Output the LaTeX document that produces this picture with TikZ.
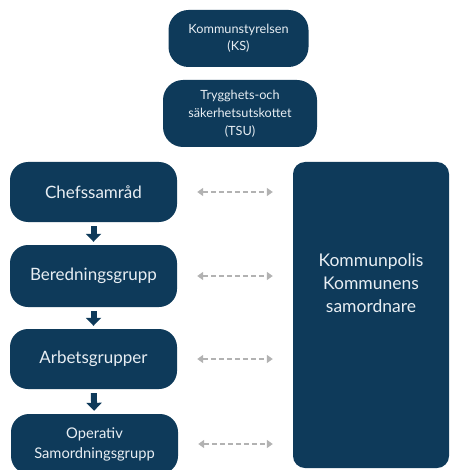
\documentclass[tikz,border=0pt]{standalone}
\usepackage{fontspec}
\setmainfont{Lato}
\usetikzlibrary{arrows.meta}
\definecolor{navy}{RGB}{14,58,90}
\definecolor{lightgray}{RGB}{178,178,178}
\definecolor{boxtext}{RGB}{232,238,243}

\begin{document}
\begin{tikzpicture}[x=1pt,y=-1pt,
    orgbox/.style={fill=navy, rounded corners=18pt, text=boxtext, align=center,
        inner sep=0pt, minimum width=167pt, minimum height=60pt},
    topbox/.style={orgbox, rounded corners=20pt},
    link/.style={draw=lightgray, line width=2pt, dash pattern=on 5pt off 3pt,
        {Triangle[width=8pt,length=6pt]}-{Triangle[width=8pt,length=6pt]},
        shorten <=20pt, shorten >=20pt},
    down/.style={draw=navy, line width=6pt, -{Triangle[width=15pt,length=8pt]},
        shorten <=4pt, shorten >=3pt}
    ]
    \useasboundingbox (0,0) rectangle (451,470);
    \def\xl{93.5}

    % top boxes
    \node[topbox, minimum width=140pt, minimum height=57pt,
        font=\fontsize{12.7}{17}\selectfont] (ks) at (238.5,38.5)
        {Kommunstyrelsen\\(KS)};
    \node[topbox, minimum width=154pt, minimum height=67pt,
        font=\fontsize{12.7}{18}\selectfont] (tsu) at (240,113.5)
        {Trygghets-och\\s\"akerhetsutskottet\\(TSU)};

    % left column
    \node[orgbox, font=\fontsize{17}{18}\selectfont] (chef) at (\xl,192) {Chefssamr\aa d};
    \node[orgbox, minimum height=62pt, font=\fontsize{17}{18}\selectfont] (bered) at (\xl,276) {Beredningsgrupp};
    \node[orgbox, font=\fontsize{17}{18}\selectfont] (arbets) at (\xl,359) {Arbetsgrupper};
    \node[orgbox, font=\fontsize{14.7}{20}\selectfont] (operativ) at (94.5,444) {Operativ\\Samordningsgrupp};

    % right box
    \node[fill=navy, rounded corners=12pt, minimum width=156pt, minimum height=306pt,
        inner sep=0pt] (polis) at (371,315) {};
    \node[text=boxtext, align=center, font=\fontsize{17.5}{23}\selectfont] (polistext)
        at (371,283) {Kommunpolis\\Kommunens\\samordnare};

    \draw[down] (chef) -- (bered);
    \draw[down] (bered) -- (arbets);
    \draw[down] (arbets) -- (operativ);

    \foreach \n in {chef,bered,arbets,operativ}
        \draw[link] (\n.east) -- (\n.east -| polis.west);
\end{tikzpicture}
\end{document}
